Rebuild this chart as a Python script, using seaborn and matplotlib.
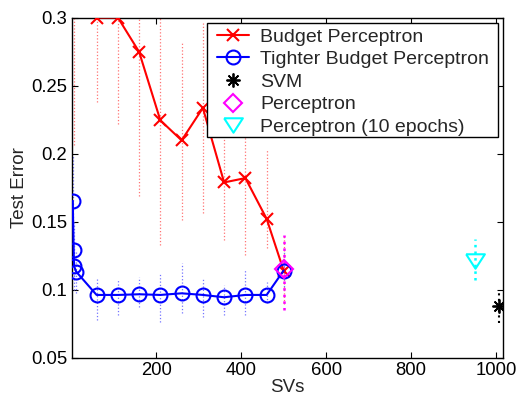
import numpy as np
import pandas as pd
import matplotlib
matplotlib.use("Agg")
import matplotlib.pyplot as plt
from matplotlib.patches import Rectangle
import seaborn as sns

# ---- data ----
budget_x = [6, 60, 110, 160, 210, 260, 310, 360, 410, 460, 500]
budget_y = [0.33, 0.300, 0.300, 0.2748, 0.2245, 0.2098, 0.2336, 0.1789, 0.1821, 0.1522, 0.1142]
budget_lo = [0.2066, 0.2377, 0.2220, 0.1686, 0.1330, 0.1515, 0.1564, 0.1368, 0.1257, 0.1307, 0.0900]
budget_hi = [0.45, 0.36, 0.38, 0.33, 0.31, 0.2814, 0.2960, 0.2210, 0.2380, 0.2030, 0.1400]

tight_x = [4, 6, 7, 12, 60, 110, 160, 210, 260, 310, 360, 410, 460, 500]
tight_y = [0.1653, 0.1293, 0.1175, 0.1134, 0.0963, 0.0963, 0.0968, 0.0963, 0.0975,
           0.0963, 0.0946, 0.0963, 0.0963, 0.1142]
tight_lo = [0.134, 0.110, 0.100, 0.098, 0.0780, 0.0816, 0.0877, 0.0767, 0.0829,
            0.0804, 0.0816, 0.0816, 0.0904, 0.1000]
tight_hi = [0.198, 0.150, 0.135, 0.128, 0.1098, 0.1079, 0.1098, 0.1123, 0.1196,
            0.1086, 0.1037, 0.1147, 0.1061, 0.1300]

svm_x, svm_y, svm_lo, svm_hi = [1007], [0.0880], [0.0755], [0.1000]
perc_x, perc_y, perc_lo, perc_hi = [500], [0.1150], [0.0853], [0.1404]
perc10_x, perc10_y, perc10_lo, perc10_hi = [950], [0.1210], [0.1073], [0.1373]

labels = ["Budget Perceptron", "Tighter Budget Perceptron", "SVM",
          "Perceptron", "Perceptron (10 epochs)"]
yticks = [0.05, 0.1, 0.15, 0.2, 0.25, 0.3]
ytick_labels = ["0.05", "0.1", "0.15", "0.2", "0.25", "0.3"]
xticks = [200, 400, 600, 800, 1000]

# ---- style ----
sns.set_style("ticks")
plt.rcParams['font.family'] = ['Liberation Sans', 'DejaVu Sans']

W, H = 519, 397
fig = plt.figure(figsize=(W / 100, H / 100), dpi=100)
ax = fig.add_axes([71.5 / W, 1 - 358 / H, (503 - 71.5) / W, (358 - 17.5) / H])

# error bars (dotted)
ax.vlines(budget_x, budget_lo, budget_hi, colors=(1, 0.45, 0.45), linestyles=':', linewidth=0.9, zorder=1)
ax.vlines(tight_x, tight_lo, tight_hi, colors=(0.45, 0.45, 1), linestyles=':', linewidth=0.9, zorder=1)
ax.vlines(svm_x, svm_lo, svm_hi, colors='black', linestyles=':', linewidth=1.5, zorder=1)
ax.vlines(perc_x, perc_lo, perc_hi, colors=(1, 0, 1), linestyles=':', linewidth=1.8, zorder=3)
ax.vlines(perc10_x, perc10_lo, perc10_hi, colors=(0, 1, 1), linestyles=':', linewidth=1.8, zorder=1)

df_b = pd.DataFrame({"x": budget_x, "y": budget_y})
df_t = pd.DataFrame({"x": tight_x, "y": tight_y})

sns.lineplot(data=df_b, x="x", y="y", ax=ax, color='red', marker='x', markersize=8,
             markeredgewidth=1.5, markeredgecolor='red', linewidth=1.5, sort=False,
             estimator=None, label=labels[0], zorder=4)
sns.lineplot(data=df_t, x="x", y="y", ax=ax, color='blue', marker='o', markersize=10,
             markeredgewidth=1.5, markerfacecolor='none', markeredgecolor='blue',
             linewidth=1.5, sort=False, estimator=None, label=labels[1], zorder=4)
ax.plot(svm_x, svm_y, linestyle='none', marker=(8, 2, 0), markersize=10, color='black',
        markeredgewidth=1.3, label=labels[2], zorder=5)
ax.plot(perc_x, perc_y, linestyle='none', marker='D', markersize=9.5, markerfacecolor='none',
        markeredgecolor=(1, 0, 1), markeredgewidth=1.5, label=labels[3], zorder=5)
tri = [(-1, 0.77), (1, 0.77), (0, -0.77), (-1, 0.77)]
ax.plot(perc10_x, perc10_y, linestyle='none', marker=tri, markersize=13.5, markerfacecolor='none',
        markeredgecolor=(0, 1, 1), markeredgewidth=1.5, label=labels[4], zorder=5)

ax.set_xlim(1, 1016)
ax.set_ylim(0.05, 0.3)
ax.set_xticks(xticks)
ax.set_xticklabels([str(t) for t in xticks])
ax.set_yticks(yticks)
ax.set_yticklabels(ytick_labels)
ax.tick_params(direction='in', length=4, width=0.8, top=True, right=True,
               labelsize=13.3, pad=3, colors='black')
for s in ax.spines.values():
    s.set_linewidth(1.0)
    s.set_color('black')
    s.set_visible(True)

ax.set_xlabel("SVs", fontsize=13.5, labelpad=0)
ax.set_ylabel("Test Error", fontsize=13.5, labelpad=2)

# legend box (frame drawn separately to match the reference padding)
bx0, bx1, by0, by1 = 207.3, 497.7, 22.7, 137.3
ax_l, ax_b = 71.5, 358
ax_w, ax_h = 503 - 71.5, 358 - 17.5
frame = Rectangle(((bx0 - ax_l) / ax_w, (ax_b - by1) / ax_h),
                  (bx1 - bx0) / ax_w, (by1 - by0) / ax_h, transform=ax.transAxes,
                  facecolor='white', edgecolor='black', linewidth=1.0, clip_on=False, zorder=6)
ax.add_patch(frame)

leg = ax.legend(loc='upper left', bbox_to_anchor=(217 / W, 1 - 28 / H),
                bbox_transform=fig.transFigure, fontsize=14.0, frameon=False,
                handlelength=1.67, handletextpad=0.56, borderaxespad=0, borderpad=0,
                labelspacing=0.255)
leg.set_zorder(7)

fig.savefig("out.png", dpi=100)
